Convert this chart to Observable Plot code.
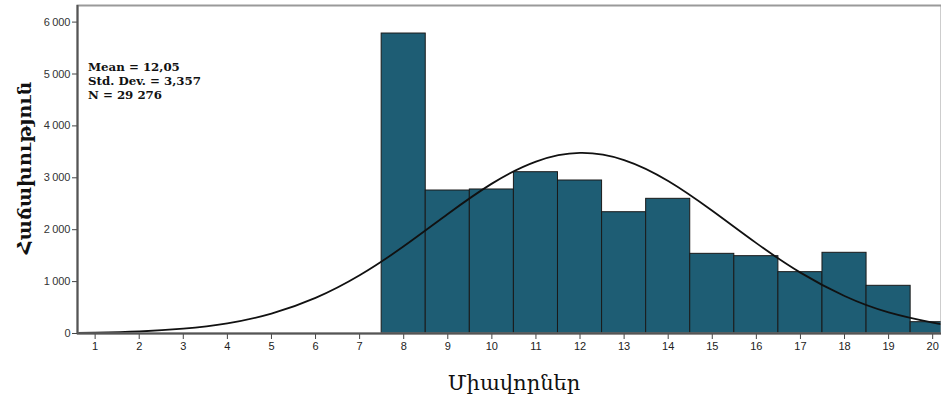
<!DOCTYPE html>
<html>
<head>
<meta charset="utf-8">
<script src="https://cdn.jsdelivr.net/npm/d3@7"></script>
<script src="https://cdn.jsdelivr.net/npm/@observablehq/plot@0.6"></script>
<style>
  html, body { margin: 0; padding: 0; background: #fff; }
  #chart { position: relative; width: 941px; height: 402px; }
  #stats { position: absolute; left: 88px; top: 60px; font: bold 11.8px "DejaVu Serif", "Liberation Serif", serif; line-height: 14px; color: #111; }
</style>
</head>
<body>
<div id="chart"><div id="stats"></div></div>
<script>
// Histogram bins (centers) and counts
const binCenters = [8, 9, 10, 11, 12, 13, 14, 15, 16, 17, 18, 19, 20];
const counts = [5780, 2755, 2775, 3108, 2948, 2337, 2595, 1535, 1490, 1182, 1555, 919, 218];

// Fitted normal curve
const curveX = [0.6, 1, 2, 3, 4, 5, 6, 7, 8, 9, 10, 11, 12, 13, 14, 15, 16, 17, 18, 19, 20, 20.2];
const curveY = [10, 16, 39, 92, 196, 384, 686, 1122, 1680, 2303, 2888, 3313, 3479, 3342, 2939, 2365, 1741, 1173, 723, 408, 211, 183];

// Ticks and labels
const xTicks = [1, 2, 3, 4, 5, 6, 7, 8, 9, 10, 11, 12, 13, 14, 15, 16, 17, 18, 19, 20];
const yTicks = [0, 1000, 2000, 3000, 4000, 5000, 6000];
const statLines = ["Mean = 12,05", "Std. Dev. = 3,357", "N = 29 276"];
const xLabel = "Միավորներ";
const yLabel = "Հաճախություն";

const bars = binCenters.map((c, i) => ({x1: c - 0.5, x2: c + 0.5, y: counts[i]}));
const curve = curveX.map((x, i) => ({x, y: curveY[i]}));

const fmt = v => v === 0 ? "0" : d3.format(",")(v).replace(/,/g, "\u2009");

const plot = Plot.plot({
  width: 941,
  height: 402,
  marginLeft: 77,
  marginRight: 0,
  marginTop: 5,
  marginBottom: 69,
  style: {background: "#fff", fontFamily: "'Liberation Sans', Arial, sans-serif", overflow: "hidden"},
  x: {domain: [0.6, 20.2], ticks: xTicks, tickFormat: d => String(d), label: null},
  y: {domain: [0, 6320], ticks: yTicks, tickFormat: fmt, label: null},
  marks: [
    Plot.rectY(bars, {x1: "x1", x2: "x2", y: "y", fill: "#1e5d74", stroke: "#1a1a1a", strokeWidth: 1, inset: 0, clip: true}),
    Plot.line(curve, {x: "x", y: "y", curve: "natural", stroke: "#111", strokeWidth: 1.8, clip: true}),
    Plot.frame({stroke: "#9a9a9a", strokeWidth: 2}),
    Plot.axisX({ticks: xTicks, tickFormat: d => String(d), tickSize: 6, tickPadding: 3, fontSize: 11, color: "#222", stroke: "#444", label: null}),
    Plot.axisY({ticks: yTicks, tickFormat: fmt, tickSize: 5, tickPadding: 2, fontSize: 11, color: "#333", stroke: "#444", label: null}),
    Plot.ruleY([0], {stroke: "#555", strokeWidth: 2}),
    Plot.ruleX([0.6], {stroke: "#555", strokeWidth: 2})
  ]
});

const svg = d3.select(plot);
// Axis titles
svg.append("text")
  .attr("x", 514).attr("y", 390)
  .attr("text-anchor", "middle")
  .attr("font-family", "'DejaVu Serif', serif")
  .attr("font-size", 21)
  .attr("fill", "#111")
  .text(xLabel);
svg.append("text")
  .attr("transform", "translate(31,168) rotate(-90)")
  .attr("text-anchor", "middle")
  .attr("font-family", "'DejaVu Serif', serif")
  .attr("font-weight", "bold")
  .attr("font-size", 19)
  .attr("fill", "#111")
  .text(yLabel);

const chart = document.getElementById("chart");
chart.insertBefore(plot, chart.firstChild);
plot.style.position = "absolute";
plot.style.left = "0";
plot.style.top = "0";
document.getElementById("stats").innerHTML = statLines.join("<br>");
</script>
</body>
</html>
